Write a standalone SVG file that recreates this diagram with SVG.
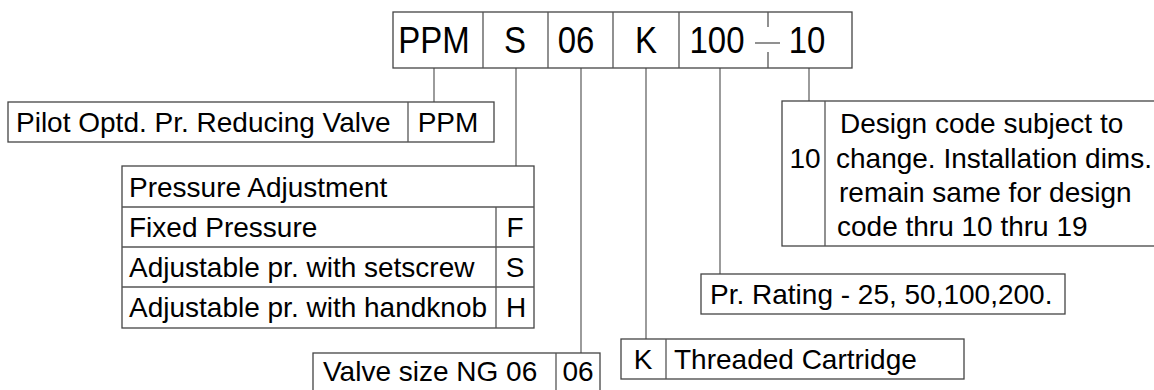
<svg xmlns="http://www.w3.org/2000/svg" width="1154" height="390" viewBox="0 0 1154 390">
<style>
.box{fill:#fff;stroke:#444;stroke-width:1.3}
.ln{fill:none;stroke:#555;stroke-width:1.3}
.con{fill:none;stroke:#666;stroke-width:1.3}
text{font-family:"Liberation Sans",Arial,sans-serif;fill:#000}
.big{font-size:36px}
.t{font-size:28px}
.c{text-anchor:middle}
</style>
<rect width="1154" height="390" fill="#fff"/>
<g id="connectors">
<line class="con" x1="434" y1="68" x2="434" y2="102"/>
<line class="con" x1="516" y1="68" x2="516" y2="166"/>
<line class="con" x1="581" y1="68" x2="581" y2="353"/>
<line class="con" x1="646" y1="68" x2="646" y2="339"/>
<line class="con" x1="720" y1="68" x2="720" y2="274"/>
<line class="con" x1="809" y1="68" x2="809" y2="101"/>
</g>
<g id="code">
<rect class="box" x="393" y="12" width="459" height="56"/>
<line class="ln" x1="483" y1="12" x2="483" y2="68"/>
<line class="ln" x1="548" y1="12" x2="548" y2="68"/>
<line class="ln" x1="613" y1="12" x2="613" y2="68"/>
<line class="ln" x1="679" y1="12" x2="679" y2="68"/>
<line class="ln" x1="768" y1="12" x2="768" y2="27"/>
<line class="ln" x1="768" y1="52" x2="768" y2="68"/>
<line class="ln" x1="755" y1="43" x2="780" y2="43"/>
<text class="big c" x="434" y="53" textLength="71.5" lengthAdjust="spacingAndGlyphs">PPM</text>
<text class="big c" x="515" y="53" textLength="22" lengthAdjust="spacingAndGlyphs">S</text>
<text class="big c" x="576" y="53" textLength="36.7" lengthAdjust="spacingAndGlyphs">06</text>
<text class="big c" x="646" y="53" textLength="22" lengthAdjust="spacingAndGlyphs">K</text>
<text class="big c" x="717" y="53" textLength="55" lengthAdjust="spacingAndGlyphs">100</text>
<text class="big c" x="807" y="53" textLength="36.7" lengthAdjust="spacingAndGlyphs">10</text>
</g>
<g id="ppm">
<rect class="box" x="8" y="102" width="486" height="40"/>
<line class="ln" x1="408" y1="102" x2="408" y2="142"/>
<text class="t" x="16" y="132">Pilot Optd. Pr. Reducing Valve</text>
<text class="t c" x="448" y="132">PPM</text>
</g>
<g id="pressure">
<rect class="box" x="122" y="166" width="412" height="162"/>
<line class="ln" x1="122" y1="207" x2="534" y2="207"/>
<line class="ln" x1="122" y1="247" x2="534" y2="247"/>
<line class="ln" x1="122" y1="287" x2="534" y2="287"/>
<line class="ln" x1="496" y1="207" x2="496" y2="328"/>
<text class="t" x="129" y="197">Pressure Adjustment</text>
<text class="t" x="129" y="237">Fixed Pressure</text>
<text class="t" x="129" y="277">Adjustable pr. with setscrew</text>
<text class="t" x="129" y="317">Adjustable pr. with handknob</text>
<text class="t c" x="515" y="237">F</text>
<text class="t c" x="515" y="277">S</text>
<text class="t c" x="516" y="317">H</text>
</g>
<g id="size">
<rect class="box" x="313" y="353" width="287" height="45"/>
<line class="ln" x1="556" y1="353" x2="556" y2="398"/>
<text class="t" x="323" y="381">Valve size NG 06</text>
<text class="t c" x="578" y="381">06</text>
</g>
<g id="cartridge">
<rect class="box" x="621" y="339" width="343" height="40"/>
<line class="ln" x1="666" y1="339" x2="666" y2="379"/>
<text class="t c" x="643" y="369">K</text>
<text class="t" x="674" y="369">Threaded Cartridge</text>
</g>
<g id="rating">
<rect class="box" x="701" y="274" width="364" height="40"/>
<text class="t" x="710" y="304">Pr. Rating - 25, 50,100,200.</text>
</g>
<g id="design">
<rect class="box" x="782" y="101" width="380" height="145"/>
<line class="ln" x1="825" y1="101" x2="825" y2="246"/>
<text class="t c" x="805" y="168">10</text>
<text class="t" x="840" y="133">Design code subject to</text>
<text class="t" x="836" y="168">change. Installation dims.</text>
<text class="t" x="839" y="202">remain same for design</text>
<text class="t" x="837" y="236">code thru 10 thru 19</text>
</g>
</svg>
